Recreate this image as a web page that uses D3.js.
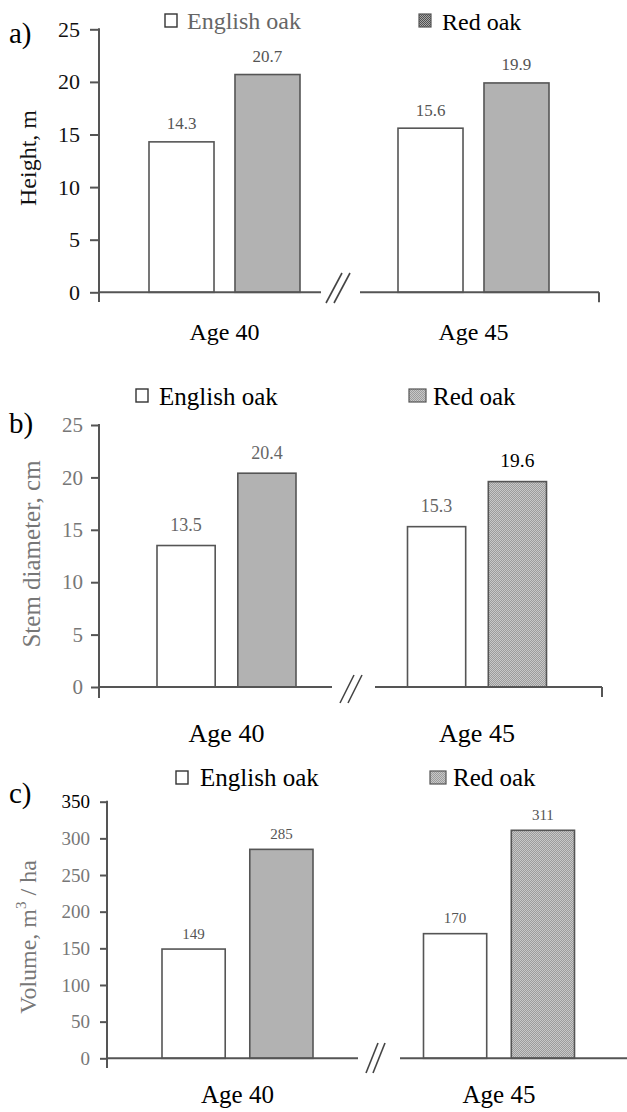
<!DOCTYPE html>
<html>
<head>
<meta charset="utf-8">
<script src="https://cdn.jsdelivr.net/npm/d3@7/dist/d3.min.js"></script>
<style>
  html, body { margin: 0; padding: 0; background: #fff; }
  svg text { font-family: 'Liberation Serif', 'DejaVu Serif', serif; }
</style>
</head>
<body>
<svg id="chart" width="627" height="1112" font-family="Liberation Serif"></svg>
<script>
// ---- data ----
const groups = ["Age 40", "Age 45"];
const series = ["English oak", "Red oak"];
const heightEnglish = [14.3, 15.6];
const heightRed = [20.7, 19.9];
const diameterEnglish = [13.5, 15.3];
const diameterRed = [20.4, 19.6];
const volumeEnglish = [149, 170];
const volumeRed = [285, 311];
const heightTicks = [0, 5, 10, 15, 20, 25];
const diameterTicks = [0, 5, 10, 15, 20, 25];
const volumeTicks = [0, 50, 100, 150, 200, 250, 300, 350];
const panelLetters = ["a)", "b)", "c)"];
const yTitles = ["Height, m", "Stem diameter, cm", "Volume, m"];

const FONT = "Liberation Serif";

// ---- layout (positions / styles) ----
const panels = [
  { letter: panelLetters[0], letterY: 43, english: heightEnglish, red: heightRed, ticks: heightTicks,
    domain: [0, 25], range: [292.3, 29.3], axisX: 99, axisBottom: 302,
    centers: [224.5, 473.5], total: 151, pad: 0.244,
    seg1End: 321, seg2: [360, 599], endTick: true,
    brk: { x: 326, y0: 303, y1: 273, dx: 16, gap: 8 },
    legend: { y: 14, b1: 165, t1: 187, b2: 419, t2: 442, base: 29, size: 24, c1: "#666", c2: "#000", w2: 12, dark: true },
    tickSize: 9, tickPad: 10, tickFont: 22, tickColor: "#111",
    title: yTitles[0], titleX: 36, titleY: 158, titleSize: 24, titleColor: "#111",
    valFont: 17, valColor: "#555", valOff: 12.5, ageBase: 340, ageSize: 24 },
  { letter: panelLetters[1], letterY: 433, english: diameterEnglish, red: diameterRed, ticks: diameterTicks,
    domain: [0, 25], range: [687, 425], axisX: 99, axisBottom: 698,
    centers: [226.5, 477], total: 139, pad: 0.28,
    seg1End: 332, seg2: [375, 602], endTick: true,
    brk: { x: 340, y0: 703, y1: 675, dx: 14, gap: 8 },
    legend: { y: 389, b1: 136, t1: 159, b2: 409, t2: 433, base: 405, size: 25, c1: "#000", c2: "#000", w2: 17, dark: false },
    tickSize: 8, tickPad: 8, tickFont: 21, tickColor: "#777",
    title: yTitles[1], titleX: 40, titleY: 554, titleSize: 25, titleColor: "#777",
    valFont: 18, valColor: "#666", valOff: 14.5, ageBase: 742, ageSize: 26,
    blackVal: true },
  { letter: panelLetters[2], letterY: 803, english: volumeEnglish, red: volumeRed, ticks: volumeTicks,
    domain: [0, 350], range: [1058.3, 801.7], axisX: 107, axisBottom: 1068,
    centers: [237.5, 499], total: 151, pad: 0.28,
    seg1End: 358, seg2: [400, 627], endTick: false,
    brk: { x: 366, y0: 1073, y1: 1043, dx: 12, gap: 7 },
    legend: { y: 771, b1: 176, t1: 200, b2: 430, t2: 453, base: 786, size: 25, c1: "#000", c2: "#000", w2: 16, dark: false },
    tickSize: 7, tickPad: 10, tickFont: 19, tickColor: "#777",
    title: yTitles[2], titleX: 36, titleY: 937, titleSize: 24, titleColor: "#777",
    valFont: 15, valColor: "#555", valOff: 10.5, ageBase: 1103, ageSize: 25 }
];

const svg = d3.select("#chart");
const defs = svg.append("defs");

function makePattern(id, base, dark) {
  const p = defs.append("pattern").attr("id", id).attr("width", 2).attr("height", 2)
    .attr("patternUnits", "userSpaceOnUse");
  p.append("rect").attr("width", 2).attr("height", 2).attr("fill", base);
  [[0,0],[1,1]].forEach(([x,y]) => p.append("rect").attr("x", x).attr("y", y).attr("width", 1).attr("height", 1).attr("fill", dark));
}
makePattern("dots", "#c8c8c8", "#9c9c9c");
makePattern("dotsDark", "#a8a8a8", "#505050");

const axisColor = "#555";

function txt(sel) { return sel.attr("font-family", FONT); }

panels.forEach((P, pi) => {
  const g = svg.append("g").attr("font-family", FONT);
  const y = d3.scaleLinear().domain(P.domain).range(P.range);
  const x = d3.scalePoint().domain(groups).range(P.centers);
  const xi = d3.scaleBand().domain(series).range([-P.total / 2, P.total / 2]).paddingInner(P.pad).paddingOuter(0);

  // panel letter
  txt(g.append("text")).attr("x", 9).attr("y", P.letterY).attr("font-size", 29).attr("fill", "#000").text(P.letter);

  // y axis
  const ax = g.append("g").attr("transform", `translate(${P.axisX},0)`)
    .call(d3.axisLeft(y).tickValues(P.ticks).tickSize(P.tickSize).tickPadding(P.tickPad).tickFormat(d3.format("d")));
  ax.attr("font-family", FONT).attr("font-size", P.tickFont);
  ax.select(".domain").remove();
  ax.selectAll(".tick line").attr("stroke", axisColor).attr("stroke-width", 2);
  txt(ax.selectAll(".tick text")).attr("font-size", P.tickFont)
    .attr("fill", d => (pi === 2 && d === 350) ? "#000" : P.tickColor);
  g.append("line").attr("x1", P.axisX).attr("x2", P.axisX).attr("y1", y(P.domain[1]) - 1).attr("y2", P.axisBottom)
    .attr("stroke", axisColor).attr("stroke-width", 2);

  // y title
  const t = txt(g.append("text")).attr("transform", `translate(${P.titleX},${P.titleY}) rotate(-90)`)
    .attr("text-anchor", "middle").attr("font-size", P.titleSize).attr("fill", P.titleColor);
  t.append("tspan").text(P.title);
  if (pi === 2) {
    t.append("tspan").attr("font-size", 15).attr("dy", -10).text("3");
    t.append("tspan").attr("dy", 10).text(" / ha");
  }

  // bars
  const rows = groups.map((grp, i) => ({ grp, i }));
  const gg = g.selectAll(".grp").data(rows).join("g").attr("transform", d => `translate(${x(d.grp)},0)`);
  gg.each(function(d) {
    const sel = d3.select(this);
    const vals = [P.english[d.i], P.red[d.i]];
    series.forEach((s, si) => {
      sel.append("rect").attr("x", xi(s)).attr("width", xi.bandwidth())
        .attr("y", y(vals[si])).attr("height", y(0) - y(vals[si]))
        .attr("fill", si === 0 ? "#fff" : "url(#dots)").attr("stroke", "#555").attr("stroke-width", 1.6);
      const black = P.blackVal && d.i === 1 && si === 1;
      txt(sel.append("text")).attr("x", xi(s) + xi.bandwidth() / 2).attr("y", y(vals[si]) - P.valOff)
        .attr("text-anchor", "middle").attr("font-size", black ? P.valFont + 1.5 : P.valFont)
        .attr("fill", black ? "#000" : P.valColor).text(vals[si]);
    });
  });

  // baseline segments
  const y0 = y(0);
  g.append("line").attr("x1", P.axisX).attr("x2", P.seg1End).attr("y1", y0).attr("y2", y0)
    .attr("stroke", axisColor).attr("stroke-width", 2);
  g.append("line").attr("x1", P.seg2[0]).attr("x2", P.seg2[1]).attr("y1", y0).attr("y2", y0)
    .attr("stroke", axisColor).attr("stroke-width", 2);
  if (P.endTick) {
    g.append("line").attr("x1", P.seg2[1]).attr("x2", P.seg2[1]).attr("y1", y0).attr("y2", y0 + 10)
      .attr("stroke", axisColor).attr("stroke-width", 2);
  }
  // break marks
  [0, 1].forEach(k => {
    g.append("line").attr("x1", P.brk.x + k * P.brk.gap).attr("y1", P.brk.y0)
      .attr("x2", P.brk.x + P.brk.dx + k * P.brk.gap).attr("y2", P.brk.y1)
      .attr("stroke", "#444").attr("stroke-width", 1.6);
  });

  // group labels
  txt(g.selectAll(".age").data(groups).join("text")).attr("x", d => x(d)).attr("y", P.ageBase)
    .attr("text-anchor", "middle").attr("font-size", P.ageSize).attr("fill", "#000").text(d => d);

  // legend
  const L = P.legend;
  g.append("rect").attr("x", L.b1).attr("y", L.y).attr("width", 12).attr("height", 13)
    .attr("fill", "#fff").attr("stroke", "#333").attr("stroke-width", 1.4);
  txt(g.append("text")).attr("x", L.t1).attr("y", L.base).attr("font-size", L.size).attr("fill", L.c1).text(series[0]);
  g.append("rect").attr("x", L.b2).attr("y", L.y).attr("width", L.w2).attr("height", 13)
    .attr("fill", L.dark ? "url(#dotsDark)" : "url(#dots)").attr("stroke", "#555").attr("stroke-width", 1.2);
  txt(g.append("text")).attr("x", L.t2).attr("y", L.base + (pi === 0 ? 1 : 0)).attr("font-size", L.size).attr("fill", L.c2).text(series[1]);
});
</script>
</body>
</html>
